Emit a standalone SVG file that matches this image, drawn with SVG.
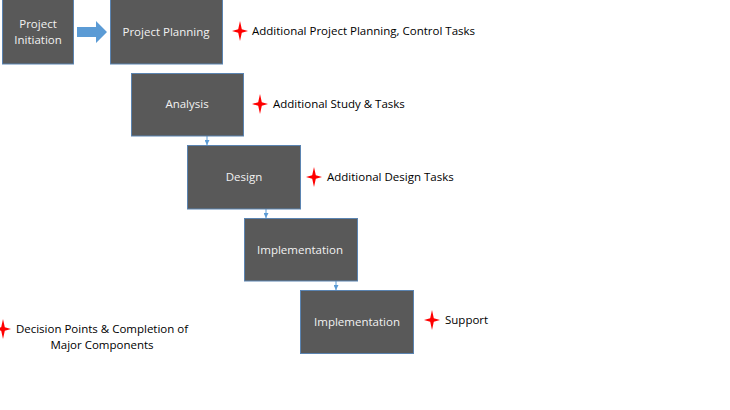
<svg xmlns="http://www.w3.org/2000/svg" xmlns:xlink="http://www.w3.org/1999/xlink" width="730" height="410" viewBox="0 0 730 410">
<style>
.box{fill:#595959;stroke:#5b84b1;stroke-width:1}
.bt{font-family:"Open Sans","Liberation Sans",sans-serif;font-size:11.5px;fill:#f2f2f2;text-anchor:middle}
.lt{font-family:"Open Sans","Liberation Sans",sans-serif;font-size:11.5px;fill:#000}
.conn{stroke:#5b9bd5;stroke-width:1;fill:none}
.star{fill:#ff0000}
</style>
<defs>
<marker id="ah" viewBox="0 0 6 6" refX="6" refY="3" markerWidth="5" markerHeight="5" orient="auto" markerUnits="userSpaceOnUse">
<path d="M0,0 L6,3 L0,6 Z" fill="#5b9bd5"/>
</marker>
<path id="st" class="star" d="M0,-10 L1.8,-1.8 L8,0 L1.8,1.8 L0,10 L-1.8,1.8 L-8,0 L-1.8,-1.8 Z"/>
</defs>
<rect width="730" height="410" fill="#fff"/>
<g id="connectors">
<path d="M77,27 L96,27 L96,21 L107,32 L96,43 L96,37 L77,37 Z" fill="#5b9bd5"/>
<line class="conn" x1="207" y1="136" x2="207" y2="145" marker-end="url(#ah)"/>
<line class="conn" x1="266" y1="209" x2="266" y2="218" marker-end="url(#ah)"/>
<line class="conn" x1="336" y1="281" x2="336" y2="290" marker-end="url(#ah)"/>
</g>
<g id="n-initiation">
<rect class="box" x="2.5" y="-0.5" width="71" height="64.5"/>
<text class="bt" x="38" y="28">Project</text>
<text class="bt" x="38" y="44">Initiation</text>
</g>
<g id="n-planning">
<rect class="box" x="110.5" y="-0.5" width="112" height="64.5"/>
<text class="bt" x="166" y="36">Project Planning</text>
</g>
<g id="n-analysis">
<rect class="box" x="131.5" y="73.5" width="112" height="62.5"/>
<text class="bt" x="187" y="108">Analysis</text>
</g>
<g id="n-design">
<rect class="box" x="187.5" y="145.5" width="113" height="63.5"/>
<text class="bt" x="244" y="181">Design</text>
</g>
<g id="n-impl1">
<rect class="box" x="244.5" y="218.5" width="113" height="62.5"/>
<text class="bt" x="300" y="254">Implementation</text>
</g>
<g id="n-impl2">
<rect class="box" x="300.5" y="290.5" width="113" height="63"/>
<text class="bt" x="357" y="326">Implementation</text>
</g>
<g id="n-note-planning">
<use xlink:href="#st" x="240" y="31"/>
<text class="lt" x="252" y="35">Additional Project Planning, Control Tasks</text>
</g>
<g id="n-note-analysis">
<use xlink:href="#st" x="260" y="104"/>
<text class="lt" x="273" y="108">Additional Study &amp; Tasks</text>
</g>
<g id="n-note-design">
<use xlink:href="#st" x="314" y="177"/>
<text class="lt" x="327" y="181">Additional Design Tasks</text>
</g>
<g id="n-note-support">
<use xlink:href="#st" x="432" y="320"/>
<text class="lt" x="445" y="324">Support</text>
</g>
<g id="n-legend">
<use xlink:href="#st" x="3" y="329"/>
<text class="lt" x="102" y="333" text-anchor="middle">Decision Points &amp; Completion of</text>
<text class="lt" x="102" y="349" text-anchor="middle">Major Components</text>
</g>
</svg>
